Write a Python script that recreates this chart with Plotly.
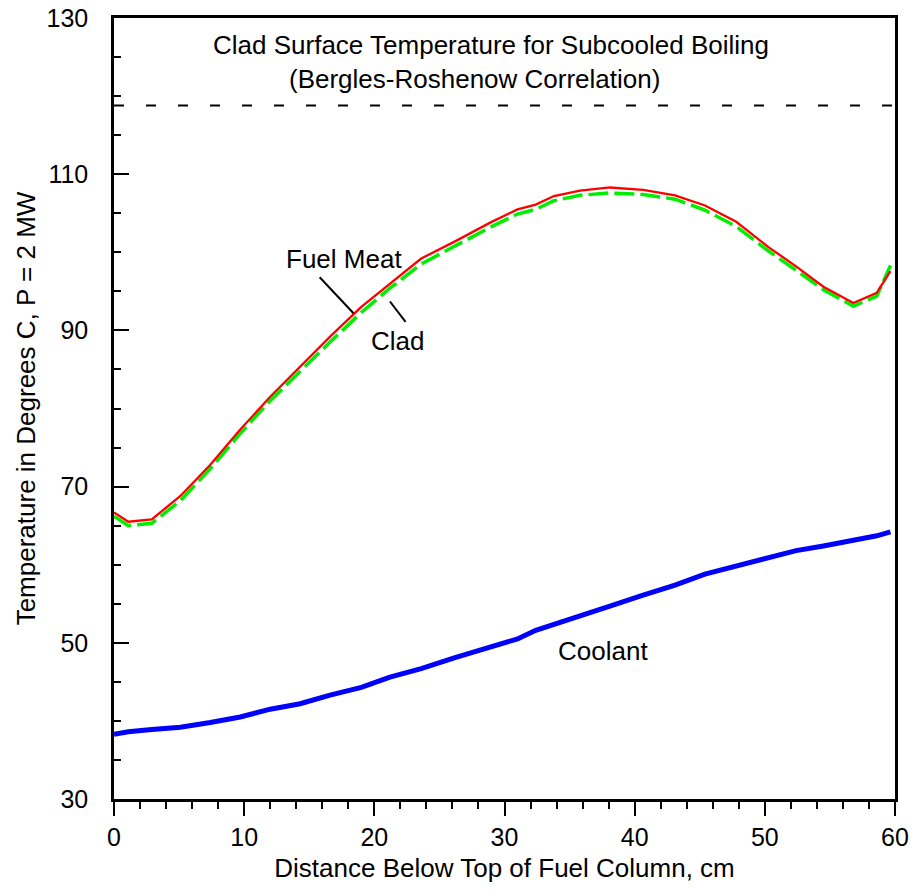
import plotly.graph_objects as go

# Axial position below top of fuel column (cm)
distance_cm = [0.0, 1.1, 2.9, 5.1, 7.4, 9.7, 12.0, 14.3, 16.6, 19.0, 21.2, 23.6, 26.2,
               28.9, 31.0, 32.4, 33.8, 35.8, 38.1, 40.65, 43.1, 45.4, 47.8, 50.25,
               52.4, 54.5, 56.8, 58.6, 59.65]

fuel_meat_temp = [66.7, 65.5, 65.8, 68.8, 72.8, 77.3, 81.5, 85.4, 89.2, 93.0, 96.0, 99.2,
                  101.4, 103.8, 105.5, 106.1, 107.2, 107.9, 108.3, 108.0, 107.3, 106.0,
                  103.9, 100.7, 98.2, 95.6, 93.5, 94.8, 97.6]

clad_temp = [66.2, 65.0, 65.3, 68.2, 72.3, 76.8, 81.0, 84.8, 88.5, 92.3, 95.4, 98.5,
             100.8, 103.2, 104.9, 105.5, 106.6, 107.3, 107.6, 107.4, 106.8, 105.4,
             103.3, 100.2, 97.7, 95.2, 93.1, 94.4, 98.3]

coolant_temp = [38.3, 38.6, 38.9, 39.2, 39.8, 40.5, 41.5, 42.2, 43.3, 44.3, 45.6, 46.7,
                48.1, 49.5, 50.5, 51.6, 52.4, 53.4, 54.7, 56.1, 57.4, 58.8, 59.8, 60.8,
                61.8, 62.4, 63.1, 63.7, 64.2]

onb_limit_temp = 118.8  # dashed reference line
x_range = [0, 60]
y_range = [30, 130]
y_tickvals = [30, 50, 70, 90, 110, 130]
x_tickvals = [0, 10, 20, 30, 40, 50, 60]

FONT = "Liberation Sans, Arial, sans-serif"

fig = go.Figure()

fig.add_trace(go.Scatter(x=x_range, y=[onb_limit_temp, onb_limit_temp], mode="lines",
                         line=dict(color="black", width=2, dash="10px,22px"),
                         hoverinfo="skip", showlegend=False))
fig.add_trace(go.Scatter(x=distance_cm, y=coolant_temp, mode="lines", name="Coolant",
                         line=dict(color="#0000ff", width=5), showlegend=False))
fig.add_trace(go.Scatter(x=distance_cm, y=clad_temp, mode="lines", name="Clad",
                         line=dict(color="#00ee00", width=3.5, dash="20px,6px"),
                         showlegend=False))
fig.add_trace(go.Scatter(x=distance_cm, y=fuel_meat_temp, mode="lines", name="Fuel Meat",
                         line=dict(color="#ff0000", width=2.3), showlegend=False))

ann_font = dict(family=FONT, size=26, color="black")
fig.add_annotation(x=29.0, y=126.5, text="Clad Surface Temperature for Subcooled Boiling",
                   showarrow=False, font=ann_font, xref="x", yref="y")
fig.add_annotation(x=27.7, y=122.2, text="(Bergles-Roshenow Correlation)",
                   showarrow=False, font=ann_font, xref="x", yref="y")
fig.add_annotation(x=17.7, y=99.1, text="Fuel Meat", showarrow=False, font=ann_font)
fig.add_annotation(x=21.8, y=88.6, text="Clad", showarrow=False, font=ann_font)
fig.add_annotation(x=37.6, y=48.9, text="Coolant", showarrow=False, font=ann_font)

fig.add_shape(type="line", x0=15.8, y0=96.8, x1=18.4, y1=92.2,
              line=dict(color="black", width=2), xref="x", yref="y")
fig.add_shape(type="line", x0=21.2, y0=93.7, x1=22.4, y1=91.1,
              line=dict(color="black", width=2), xref="x", yref="y")

fig.update_layout(
    width=914, height=892,
    margin=dict(l=114, r=19, t=18, b=93, autoexpand=False),
    plot_bgcolor="white", paper_bgcolor="white",
    font=dict(family=FONT, size=25, color="black"),
    showlegend=False,
)

fig.update_xaxes(
    range=x_range, tickvals=x_tickvals, ticks="outside", ticklen=14, tickwidth=2,
    tickcolor="black", showline=True, linewidth=2.5, linecolor="black", mirror=True,
    showgrid=False, zeroline=False,
    minor=dict(dtick=2, ticks="outside", ticklen=7, tickwidth=2, tickcolor="black", showgrid=False),
    tickfont=dict(family=FONT, size=25), ticklabeloverflow="allow",
    title=dict(text="Distance Below Top of Fuel Column, cm", font=dict(family=FONT, size=26),
               standoff=10),
)
fig.update_yaxes(
    range=y_range, tickvals=y_tickvals, ticks="inside", ticklen=15, tickwidth=2,
    tickcolor="black", showline=True, linewidth=2.5, linecolor="black", mirror=True,
    showgrid=False, zeroline=False,
    minor=dict(dtick=5, tick0=30, ticks="inside", ticklen=7, tickwidth=2, tickcolor="black", showgrid=False),
    tickfont=dict(family=FONT, size=25), ticklabelstandoff=18, ticklabeloverflow="allow",
    title=dict(text="Temperature in Degrees C, P = 2 MW", font=dict(family=FONT, size=26),
               standoff=4),
)

# remove the browser's default 8px body margin so the figure fills the window exactly
fig.write_html("out.html", config={"displayModeBar": False},
               post_script="document.body.style.margin='0px';")
